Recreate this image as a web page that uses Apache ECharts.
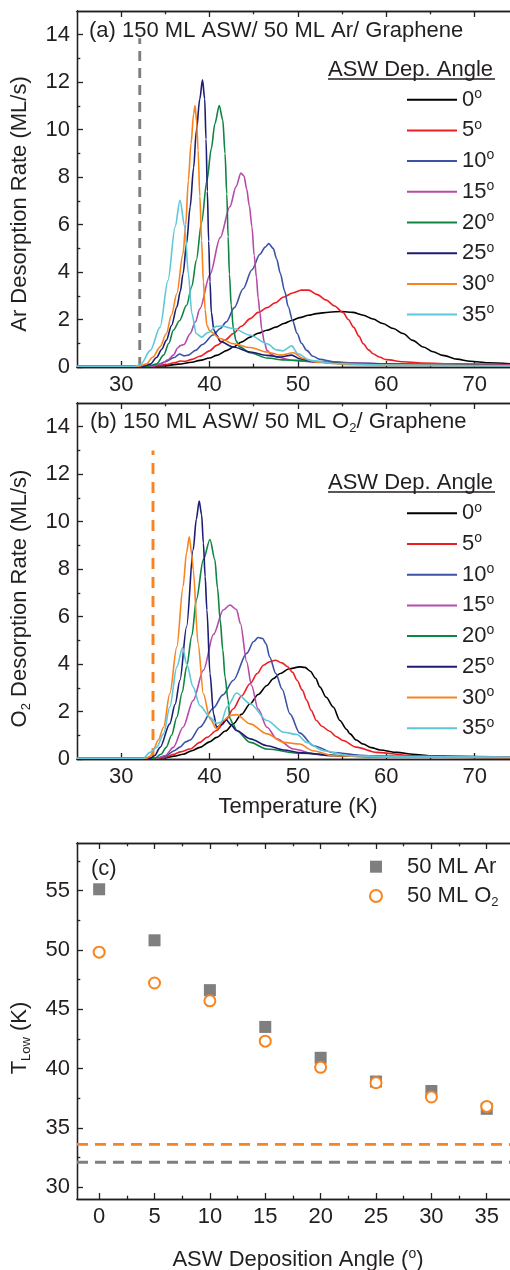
<!DOCTYPE html>
<html>
<head>
<meta charset="utf-8">
<title>Ar / O2 desorption from ASW</title>
<script src="https://cdn.jsdelivr.net/npm/echarts@6.0.0/dist/echarts.min.js"></script>
<style>
  html, body { margin: 0; padding: 0; background: #fff; }
  #chart { width: 510px; height: 1270px; }
</style>
</head>
<body>
<div id="chart"></div>
<script>
// ---------- data ----------
// ASW deposition angles (legend of panels a and b)
const angleNames = ['0', '5', '10', '15', '20', '25', '30', '35'];

// (a) Ar desorption rate (ML/s) vs temperature (K), [T, rate]
const arRate0 = [[25,0.03],[32,0.03],[33.5,0.03],[35,0.06],[36.5,0.12],[38,0.2],[38.9,0.28],[40,0.38],[40.8,0.49],[42,0.7],[42.7,0.84],[43.6,1.05],[44.6,1.26],[45.5,1.42],[46.5,1.55],[47.5,1.68],[48.4,1.83],[49.3,1.96],[50.2,2.08],[51.2,2.18],[52.1,2.25],[53.5,2.31],[55,2.34],[56.2,2.3],[57.4,2.18],[58.5,2.02],[59.6,1.83],[60.8,1.62],[61.9,1.41],[63,1.12],[64.2,0.84],[65.3,0.64],[66.4,0.49],[68,0.33],[69.5,0.24],[71.5,0.18],[74,0.14]];
const arRate5 = [[25,0.03],[33,0.03],[34,0.05],[35,0.1],[36,0.18],[36.7,0.25],[37.3,0.24],[38,0.32],[38.9,0.45],[40,0.68],[40.8,0.91],[41.8,1.15],[42.7,1.41],[43.6,1.72],[44.6,2.04],[45.5,2.3],[46.5,2.5],[47.4,2.7],[48.4,2.95],[49.4,3.12],[50.4,3.24],[51.2,3.24],[52.2,3.05],[53.2,2.82],[54.1,2.58],[55.1,2.3],[55.7,2.0],[56.3,1.68],[56.9,1.3],[57.4,0.98],[58,0.72],[58.5,0.56],[59.2,0.42],[60,0.31],[61.9,0.22],[64,0.17],[68,0.13],[74,0.1]];
const arRate10 = [[25,0.03],[33,0.03],[34,0.08],[35,0.22],[36,0.4],[36.6,0.55],[37.1,0.47],[37.6,0.5],[38.4,0.7],[39.2,0.95],[40.4,1.35],[41.2,1.62],[41.9,1.9],[42.8,2.5],[43.8,3.3],[44.8,4.1],[45.7,4.75],[46.3,5.05],[46.7,5.2],[47.2,5.0],[47.6,4.55],[48.0,3.95],[48.5,3.2],[48.9,2.55],[49.4,1.95],[49.9,1.42],[50.4,1.0],[51.0,0.7],[51.7,0.45],[52.5,0.32],[54,0.22],[56,0.18],[60,0.13],[65,0.08],[74,0.05]];
const arRate15 = [[25,0.03],[33.5,0.03],[34.5,0.12],[35.3,0.3],[35.9,0.5],[36.4,0.8],[36.7,0.9],[37.1,0.95],[37.8,1.4],[38.4,1.9],[38.9,2.45],[40.05,3.9],[41.2,5.45],[42.3,6.75],[43.0,7.6],[43.55,8.17],[43.9,8.05],[44.2,7.5],[44.5,6.8],[44.8,5.9],[45.05,4.7],[45.3,3.8],[45.5,2.9],[45.7,2.3],[45.9,1.6],[46.2,1.05],[46.5,0.7],[47,0.52],[47.6,0.42],[49.5,0.28],[52,0.2],[60,0.14],[74,0.08]];
const arRate20 = [[25,0.03],[33,0.03],[34,0.12],[34.8,0.5],[35.4,1.0],[35.9,1.55],[36.6,1.95],[37.4,2.6],[38,3.4],[38.5,4.5],[39.1,6.1],[39.7,7.85],[40.2,9.2],[40.6,10.25],[41.1,11.02],[41.5,10.4],[41.75,9.0],[41.95,7.3],[42.1,5.5],[42.25,3.9],[42.45,2.6],[42.7,1.6],[43.0,1.1],[43.4,0.85],[44.6,0.6],[46.5,0.38],[48.4,0.3],[50.3,0.27],[54,0.17],[60,0.1],[74,0.05]];
const arRate25 = [[25,0.03],[32.5,0.03],[33.3,0.12],[34,0.4],[34.6,0.75],[35.1,1.12],[35.7,1.75],[36.3,2.53],[36.7,3.2],[37,3.93],[37.4,5.2],[37.8,6.74],[38.2,8.4],[38.5,9.95],[38.9,11.3],[39.2,12.1],[39.45,11.3],[39.6,9.6],[39.75,7.4],[39.9,5.3],[40.05,3.6],[40.2,2.3],[40.5,1.55],[40.8,1.35],[41.2,1.08],[42.7,0.84],[44.6,0.63],[46.5,0.49],[48,0.42],[49.3,0.5],[50.2,0.35],[52,0.22],[56,0.12],[74,0.05]];
const arRate30 = [[25,0.03],[32,0.03],[32.8,0.12],[33.6,0.42],[34.4,0.85],[35.1,1.4],[35.7,2.2],[36.3,3.1],[37,4.78],[37.3,6.0],[37.6,7.86],[37.9,9.4],[38.2,10.67],[38.35,11.02],[38.55,10.3],[38.7,9.13],[38.9,7.2],[39.1,5.34],[39.3,3.6],[39.5,2.4],[39.7,1.75],[40.05,1.5],[41.2,1.2],[42.7,0.98],[44.6,0.82],[46.5,0.63],[48,0.5],[49.5,0.6],[50.6,0.36],[52.1,0.2],[56,0.1],[74,0.05]];
const arRate35 = [[25,0.03],[31.5,0.03],[32.2,0.1],[33.3,0.7],[34.4,1.68],[35.3,3.65],[36.1,5.9],[36.65,7.02],[37.2,5.9],[37.6,3.93],[38,2.25],[38.5,1.4],[39.1,1.26],[39.8,1.45],[40.8,1.71],[41.3,1.73],[42.7,1.62],[44.6,1.34],[46.5,0.98],[47.6,0.72],[48.3,0.68],[49.3,0.89],[50,0.56],[51.4,0.28],[54,0.15],[60,0.08],[74,0.04]];

// (b) O2 desorption rate (ML/s) vs temperature (K), [T, rate]
const o2Rate0 = [[25,0.03],[34,0.03],[35,0.06],[36,0.12],[37,0.2],[38,0.35],[38.9,0.49],[40,0.72],[40.8,0.91],[41.8,1.18],[42.7,1.48],[43.6,1.88],[44.6,2.33],[45.5,2.72],[46.5,3.1],[47.2,3.38],[48,3.6],[49,3.8],[50.2,3.88],[50.8,3.86],[51.4,3.7],[52,3.4],[52.5,3.03],[53.2,2.6],[54,2.19],[54.75,1.62],[55.5,1.25],[55.9,1.06],[56.6,0.8],[57.4,0.63],[58.3,0.48],[59.3,0.38],[61.2,0.28],[63,0.2],[65,0.14],[68,0.1],[74,0.08]];
const o2Rate5 = [[25,0.03],[34,0.03],[35,0.08],[36,0.2],[36.7,0.3],[37.8,0.42],[38.9,0.7],[39.7,0.91],[40.8,1.2],[41.8,1.62],[42.7,2.12],[43.6,2.65],[44.6,3.18],[45.4,3.6],[46.1,3.95],[46.8,4.1],[47.45,4.16],[48.2,4.05],[48.8,3.9],[49.4,3.65],[49.9,3.32],[50.5,2.9],[51,2.47],[51.5,2.05],[52.1,1.62],[52.7,1.38],[53.6,1.17],[54.3,0.95],[55.1,0.78],[56.6,0.5],[58.9,0.28],[63,0.14],[74,0.08]];
const o2Rate10 = [[25,0.03],[34,0.03],[35,0.12],[36,0.35],[36.65,0.5],[37.3,0.72],[37.8,0.8],[38.9,1.34],[40.45,2.15],[41.5,2.7],[42.7,3.32],[44.2,4.45],[45.0,4.95],[45.5,5.12],[46.0,5.08],[46.4,4.85],[46.8,4.3],[47.5,3.6],[48.2,2.95],[49.1,1.9],[50.2,1.1],[51.75,0.56],[54,0.27],[57,0.16],[60,0.1],[74,0.05]];
const o2Rate15 = [[25,0.03],[34,0.03],[35,0.15],[35.9,0.49],[37,1.34],[38.15,2.47],[39.3,3.74],[40.45,5.25],[41.55,6.28],[42.3,6.49],[43.05,6.3],[43.5,5.7],[44.2,4.1],[44.75,3.1],[45.5,2.1],[46.5,1.34],[47.6,0.85],[49.5,0.42],[52.1,0.2],[56,0.12],[74,0.05]];
const o2Rate20 = [[25,0.03],[33.8,0.03],[34.5,0.2],[35.1,0.49],[35.7,1.0],[36.3,1.76],[36.9,2.8],[37.4,3.88],[38,5.2],[38.5,6.7],[39.3,8.4],[40.05,9.25],[40.6,8.4],[40.9,7.2],[41.2,5.86],[41.5,4.6],[41.75,3.46],[42.1,2.47],[42.3,1.7],[42.7,1.45],[43.05,1.2],[44.6,0.7],[46.5,0.42],[50.2,0.24],[56,0.12],[74,0.05]];
const o2Rate25 = [[25,0.03],[33.3,0.03],[33.8,0.15],[34.4,0.49],[35.5,1.48],[36.1,2.3],[36.65,3.32],[37.4,5.57],[38.15,8.82],[38.5,10.1],[38.83,10.87],[39.1,10.3],[39.3,9.1],[39.5,7.7],[39.7,6.28],[40.05,3.6],[40.45,1.9],[40.8,1.34],[41.4,1.45],[41.9,1.65],[42.4,1.45],[43.05,1.2],[44.6,0.85],[46.5,0.56],[48.4,0.38],[50.2,0.27],[54,0.14],[60,0.08],[74,0.05]];
const o2Rate30 = [[25,0.03],[32.8,0.03],[33.3,0.12],[33.6,0.35],[34.2,0.8],[34.8,1.34],[35.5,2.75],[36.3,4.73],[37.0,7.27],[37.4,8.7],[37.7,9.36],[38.0,8.6],[38.15,7.98],[38.7,4.87],[39.3,2.75],[40.05,1.69],[40.8,1.27],[41.55,1.62],[42.3,1.83],[43.05,1.87],[44.6,1.48],[46.5,1.06],[48.4,0.7],[50.2,0.63],[51.7,0.35],[54,0.14],[60,0.08],[74,0.05]];
const o2Rate35 = [[25,0.03],[32.5,0.03],[33.26,0.28],[34.0,0.49],[34.8,1.06],[35.5,2.19],[36.3,3.88],[36.95,4.7],[37.4,4.02],[38.15,3.03],[38.9,2.25],[40.05,1.76],[40.8,1.5],[41.3,1.55],[42.0,2.2],[43.05,2.78],[44.6,2.33],[46.5,1.62],[48.4,1.13],[49.9,1.03],[51,0.7],[52.9,0.35],[55.9,0.14],[60,0.1],[74,0.08]];

// desorption onset temperatures (dashed lines)
const arOnsetT = 32.1;
const o2OnsetT = 33.6;
const onsetMarkTop = [13.85, 13.0];   // top end of the vertical dashes in (a) and (b)

// (c) T_Low vs ASW deposition angle
const depAngles = [0, 5, 10, 15, 20, 25, 30, 35];
const tLowAr = [55.1, 50.8, 46.6, 43.5, 40.9, 38.9, 38.1, 36.6];
const tLowO2 = [49.8, 47.2, 45.7, 42.3, 40.1, 38.8, 37.6, 36.8];

// tick labels / tick positions
const tempTicks = [30, 40, 50, 60, 70];
const tempMinor = [35, 45, 55, 65];
const rateTicks = [0, 2, 4, 6, 8, 10, 12, 14];
const rateMinor = [1, 3, 5, 7, 9, 11, 13];
const angleTicks = [0, 5, 10, 15, 20, 25, 30, 35];
const angleMinor = [2.5, 7.5, 12.5, 17.5, 22.5, 27.5, 32.5];
const tLowTicks = [30, 35, 40, 45, 50, 55];
const tLowMinor = [32.5, 37.5, 42.5, 47.5, 52.5, 57.5];

// ---------- styling ----------
const FONT = "'Liberation Sans', Arial, Helvetica, sans-serif";
const INK = '#231f20';
const angleColors = ['#000000', '#ee1d23', '#3a53a4', '#b64aa9', '#0f8443', '#1d1d74', '#f7841f', '#5ec7d9'];
const GREY = '#7f7f7f';
const ORANGE = '#f7841f';

const richText = {
  m: { fontSize: 22, lineHeight: 22, fontFamily: FONT, color: INK },
  s: { fontSize: 14, lineHeight: 14, padding: [0, 0, 11, 0], fontFamily: FONT, color: INK },
  sub: { fontSize: 13, lineHeight: 13, padding: [13, 0, 0, 0], fontFamily: FONT, color: INK },
  gap: { width: 20 }
};

function axis(gridIndex, position, min, max, ticks, tickLen, labels) {
  return {
    type: 'value', gridIndex: gridIndex, position: position, min: min, max: max,
    axisLine: { show: true, onZero: false, lineStyle: { color: INK, width: 1.3 } },
    axisTick: { show: true, inside: true, length: tickLen, customValues: ticks, lineStyle: { color: INK, width: 1.3 } },
    axisLabel: labels
      ? { show: true, customValues: labels, color: INK, fontSize: 22, fontFamily: FONT, margin: 7 }
      : { show: false },
    splitLine: { show: false },
    minorTick: { show: false },
    minorSplitLine: { show: false }
  };
}

// four x axes per panel: bottom major, bottom minor, top major, top minor
function xAxesFor(gi, min, max, major, minor) {
  return [
    axis(gi, 'bottom', min, max, major, 6, major),
    axis(gi, 'bottom', min, max, minor, 3.3),
    axis(gi, 'top', min, max, major, 6),
    axis(gi, 'top', min, max, minor, 3.3)
  ];
}
function yAxesFor(gi, min, max, major, minor) {
  return [
    axis(gi, 'left', min, max, major, 6, major),
    axis(gi, 'left', min, max, minor, 3.3)
  ];
}

const xAxes = [].concat(
  xAxesFor(0, 25, 74, tempTicks, tempMinor),
  xAxesFor(1, 25, 74, tempTicks, tempMinor),
  xAxesFor(2, -2, 37.1, angleTicks, angleMinor)
);
const yAxes = [].concat(
  yAxesFor(0, 0, 15, rateTicks, rateMinor),
  yAxesFor(1, 0, 15, rateTicks, rateMinor),
  yAxesFor(2, 29, 59, tLowTicks, tLowMinor)
);

const nameStyle = { fontSize: 22, fontFamily: FONT, color: INK, rich: richText };

// axis names
Object.assign(yAxes[0], { name: 'Ar Desorption Rate (ML/s)', nameLocation: 'middle', nameGap: 46,
  nameTextStyle: Object.assign({}, nameStyle, { padding: [0, 30, 0, 0] }) });
Object.assign(yAxes[2], { name: '{m|O}{sub|2}{m| Desorption Rate (ML/s)}', nameLocation: 'middle', nameGap: 46,
  nameTextStyle: Object.assign({}, nameStyle, { padding: [0, 35, 0, 0] }) });
Object.assign(yAxes[4], { name: '{m|T}{sub|Low}{m| (K)}', nameLocation: 'middle', nameGap: 46,
  nameTextStyle: Object.assign({}, nameStyle, { padding: [0, 34, 0, 0] }) });
Object.assign(xAxes[4], { name: 'Temperature (K)', nameLocation: 'middle', nameGap: 37,
  nameTextStyle: Object.assign({}, nameStyle, { padding: [0, 0, 0, 9] }) });
Object.assign(xAxes[8], { name: '{m|ASW Deposition Angle (}{s|o}{m|)}', nameLocation: 'middle', nameGap: 50,
  nameTextStyle: Object.assign({}, nameStyle, { padding: [0, 0, 0, 9] }) });

// ---------- series ----------
const series = [];
[arRate0, arRate5, arRate10, arRate15, arRate20, arRate25, arRate30, arRate35].forEach(function (d, i) {
  series.push({
    name: angleNames[i], type: 'line', xAxisIndex: 0, yAxisIndex: 0, data: d,
    symbol: 'none', showSymbol: false, smooth: 0.3, smoothMonotone: 'x',
    lineStyle: { width: 1.6, color: angleColors[i] }, itemStyle: { color: angleColors[i] }
  });
});
[o2Rate0, o2Rate5, o2Rate10, o2Rate15, o2Rate20, o2Rate25, o2Rate30, o2Rate35].forEach(function (d, i) {
  series.push({
    name: angleNames[i], type: 'line', xAxisIndex: 4, yAxisIndex: 2, data: d,
    symbol: 'none', showSymbol: false, smooth: 0.3, smoothMonotone: 'x',
    lineStyle: { width: 1.6, color: angleColors[i] }, itemStyle: { color: angleColors[i] }
  });
});

// onset dashes
function dash(xi, yi, data, color, pattern) {
  return {
    type: 'line', xAxisIndex: xi, yAxisIndex: yi, data: data, symbol: 'none', silent: true,
    lineStyle: { color: color, width: 2.9, type: pattern }, z: 1
  };
}
series.push(dash(0, 0, [[arOnsetT, 0], [arOnsetT, onsetMarkTop[0]]], GREY, [10, 7]));
series.push(dash(4, 2, [[o2OnsetT, 0], [o2OnsetT, onsetMarkTop[1]]], ORANGE, [11, 8]));
series.push(dash(8, 4, [[xAxes[8].min, o2OnsetT], [xAxes[8].max, o2OnsetT]], ORANGE, [11, 7]));
series.push(dash(8, 4, [[xAxes[8].min, arOnsetT], [xAxes[8].max, arOnsetT]], GREY, [11, 7]));

series.push({
  name: '50 ML Ar', type: 'scatter', xAxisIndex: 8, yAxisIndex: 4,
  data: depAngles.map(function (a, i) { return [a, tLowAr[i]]; }),
  symbol: 'rect', symbolSize: 12, itemStyle: { color: GREY, opacity: 1 }
});
series.push({
  name: '50 ML O2', type: 'scatter', xAxisIndex: 8, yAxisIndex: 4,
  data: depAngles.map(function (a, i) { return [a, tLowO2[i]]; }),
  symbol: 'circle', symbolSize: 11,
  itemStyle: { color: '#ffffff', borderColor: ORANGE, borderWidth: 2, opacity: 1 }
});

// ---------- legends ----------
function angleLegend(top) {
  return {
    orient: 'vertical', left: 406, top: top, padding: 0,
    itemWidth: 50, itemHeight: 14, itemGap: 5.7,
    data: angleNames,
    itemStyle: { opacity: 0 },
    lineStyle: { width: 2 },
    formatter: function (n) { return '{m|' + n + '}{s|o}'; },
    textStyle: { fontSize: 22, fontFamily: FONT, color: INK, rich: richText },
    selectedMode: false
  };
}

const option = {
  animation: false,
  backgroundColor: '#ffffff',
  textStyle: { fontFamily: FONT },
  grid: [
    { left: 77, top: 11, width: 433, height: 356, outerBoundsMode: 'none', containLabel: false },
    { left: 77, top: 403, width: 433, height: 356, outerBoundsMode: 'none', containLabel: false },
    { left: 77, top: 843, width: 433, height: 356, outerBoundsMode: 'none', containLabel: false }
  ],
  title: [
    { text: '(a) 150 ML ASW/ 50 ML Ar/ Graphene', left: 89, top: 20, padding: 0,
      textStyle: { fontSize: 22, fontWeight: 'normal', fontFamily: FONT, color: INK } },
    { text: '{m|(b) 150 ML ASW/ 50 ML O}{sub|2}{m|/ Graphene}', left: 90, top: 411, padding: 0,
      textStyle: { fontSize: 22, fontWeight: 'normal', fontFamily: FONT, color: INK, rich: richText } },
    { text: 'ASW Dep. Angle', left: 328, top: 59, padding: 0,
      textStyle: { fontSize: 22, fontWeight: 'normal', fontFamily: FONT, color: INK } },
    { text: 'ASW Dep. Angle', left: 328, top: 472, padding: 0,
      textStyle: { fontSize: 22, fontWeight: 'normal', fontFamily: FONT, color: INK } },
    { text: '(c)', left: 91, top: 858, padding: 0,
      textStyle: { fontSize: 22, fontWeight: 'normal', fontFamily: FONT, color: INK } }
  ],
  legend: [
    angleLegend(87.2),
    angleLegend(500.8),
    {
      orient: 'vertical', left: 369, top: 855.7, padding: 0,
      itemWidth: 12, itemHeight: 12, itemGap: 5.3,
      data: ['50 ML Ar', '50 ML O2'],
      formatter: function (n) { return n === '50 ML O2' ? '{gap|}{m|50 ML O}{sub|2}' : '{gap|}{m|' + n + '}'; },
      textStyle: { fontSize: 22, fontFamily: FONT, color: INK, rich: richText },
      selectedMode: false
    }
  ],
  // underline of the legend headers
  graphic: [
    { type: 'line', shape: { x1: 328, y1: 79, x2: 495, y2: 79 }, style: { stroke: INK, lineWidth: 1.3 } },
    { type: 'line', shape: { x1: 328, y1: 492, x2: 495, y2: 492 }, style: { stroke: INK, lineWidth: 1.3 } }
  ],
  xAxis: xAxes,
  yAxis: yAxes,
  series: series
};

const chart = echarts.init(document.getElementById('chart'), null, { renderer: 'canvas' });
chart.setOption(option);
</script>
</body>
</html>
